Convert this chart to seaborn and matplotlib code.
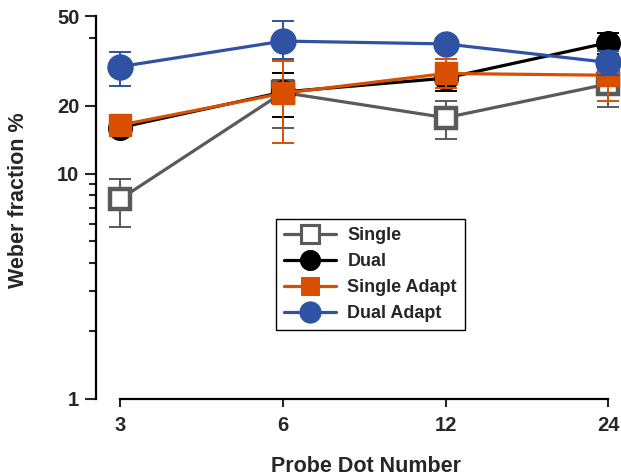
import numpy as np
import pandas as pd
import matplotlib
matplotlib.use("Agg")
import matplotlib.pyplot as plt
import seaborn as sns
from matplotlib.ticker import FixedLocator, NullFormatter
from matplotlib.lines import Line2D

# ---- data ----
probe_numbers = ["3", "6", "12", "24"]
series_names = ["Single", "Dual", "Single Adapt", "Dual Adapt"]

single_vals = [7.7, 22.9, 17.7, 25.0]
single_lo = [5.8, 15.9, 14.3, 19.7]
single_hi = [9.5, 26.0, 21.0, 30.0]

dual_vals = [16.0, 23.0, 26.5, 38.1]
dual_lo = [15.3, 17.8, 23.2, 34.0]
dual_hi = [16.8, 28.0, 30.5, 42.0]

sadapt_vals = [16.4, 22.7, 27.8, 27.3]
sadapt_lo = [15.5, 13.7, 23.9, 21.0]
sadapt_hi = [17.2, 31.7, 32.2, 33.0]

dadapt_vals = [29.8, 38.7, 37.6, 31.1]
dadapt_lo = [24.4, 32.1, 35.0, 27.5]
dadapt_hi = [34.7, 47.7, 40.0, 35.0]

y_major = [1, 10, 20, 50]
y_minor = [2, 3, 4, 5, 6, 7, 8, 9, 40]

# ---- styling ----
sns.set_style("white")
plt.rcParams["font.family"] = ["Liberation Sans", "DejaVu Sans"]
plt.rcParams["font.weight"] = "bold"

fig = plt.figure(figsize=(6.21, 4.76), dpi=100)
ax = fig.add_axes([96 / 621, 77 / 476, (615 - 96) / 621, (399 - 16) / 476])

pos = np.arange(len(probe_numbers))
rows = []
for name, vals, lo, hi in [
    ("Single", single_vals, single_lo, single_hi),
    ("Dual", dual_vals, dual_lo, dual_hi),
    ("Single Adapt", sadapt_vals, sadapt_lo, sadapt_hi),
    ("Dual Adapt", dadapt_vals, dadapt_lo, dadapt_hi),
]:
    for p, v, l, h in zip(pos, vals, lo, hi):
        rows.append({"series": name, "x": p, "y": v, "lo": l, "hi": h})
df = pd.DataFrame(rows)

styles = {
    "Single": dict(color="#5a5a5a", marker="s", mfc="white", mec="#5a5a5a", ms=15, mew=3.2),
    "Dual": dict(color="#000000", marker="o", mfc="#000000", mec="#000000", ms=17, mew=1),
    "Single Adapt": dict(color="#d94f00", marker="s", mfc="#d94f00", mec="#d94f00", ms=16, mew=1),
    "Dual Adapt": dict(color="#2f52a4", marker="o", mfc="#2f52a4", mec="#2f52a4", ms=18, mew=1),
}

for i, name in enumerate(series_names):
    sub = df[df["series"] == name]
    st = styles[name]
    z = 3 + i * 2
    sns.lineplot(data=sub, x="x", y="y", ax=ax, color=st["color"], lw=2.3,
                 marker=st["marker"], markersize=st["ms"], markerfacecolor=st["mfc"],
                 markeredgecolor=st["mec"], markeredgewidth=st["mew"],
                 zorder=z, label=name, clip_on=False, legend=False)
    yerr = np.vstack([sub["y"] - sub["lo"], sub["hi"] - sub["y"]])
    ax.errorbar(sub["x"], sub["y"], yerr=yerr, fmt="none", ecolor=st["color"],
                elinewidth=1.4, capsize=8, capthick=1.4,
                zorder=z + 1.5 if name != "Single" else z - 0.5, clip_on=False)

ax.set_yscale("log")
ax.set_ylim(1, 50)
ax.set_xlim(-0.1475, 3.04)
ax.yaxis.set_major_locator(FixedLocator(y_major))
ax.yaxis.set_minor_locator(FixedLocator(y_minor))
ax.yaxis.set_minor_formatter(NullFormatter())
ax.set_yticklabels([str(v) for v in y_major])
ax.set_xticks(pos)
ax.set_xticklabels(probe_numbers)

for s in ["top", "right"]:
    ax.spines[s].set_visible(False)
for s in ["left", "bottom"]:
    ax.spines[s].set_linewidth(1.6)
    ax.spines[s].set_color("black")
ax.spines["bottom"].set_bounds(0, 3)

ax.tick_params(axis="y", which="major", direction="out", length=8, width=1.5,
               labelsize=14.5, pad=4, left=True)
ax.tick_params(axis="y", which="minor", direction="out", length=5, width=1.5, left=True)
ax.tick_params(axis="x", which="major", direction="out", length=6, width=1.5,
               labelsize=14.5, pad=6, bottom=True)
for lab in ax.get_xticklabels() + ax.get_yticklabels():
    lab.set_fontweight("bold")

ax.set_ylabel("Weber fraction %", fontsize=15.5, fontweight="bold")
ax.yaxis.set_label_coords(-(96 - 19) / (615 - 96), (399 - 200) / (399 - 16))
ax.set_xlabel("Probe Dot Number", fontsize=15.5, fontweight="bold")
ax.xaxis.set_label_coords((366 - 96) / (615 - 96), -(466 - 399) / (399 - 16))
ax.xaxis.label.set_va("center")
ax.yaxis.label.set_va("center")

# legend with proxy handles
handles = []
for name in series_names:
    st = styles[name]
    handles.append(Line2D([0], [0], color=st["color"], lw=2.3, marker=st["marker"],
                          markersize=st["ms"] * 0.85, markerfacecolor=st["mfc"],
                          markeredgecolor=st["mec"], markeredgewidth=st["mew"] * 0.7))
leg = ax.legend(handles, series_names, loc="upper left",
                bbox_to_anchor=((276 - 96) / (615 - 96), (399 - 219) / (399 - 16)),
                frameon=True, fancybox=False, edgecolor="black", framealpha=1,
                prop={"weight": "bold", "size": 13}, handlelength=2.9,
                borderpad=0.45, labelspacing=0.5, handletextpad=0.6, borderaxespad=0)
leg.get_frame().set_linewidth(1.0)

fig.savefig("out.png", dpi=100)
